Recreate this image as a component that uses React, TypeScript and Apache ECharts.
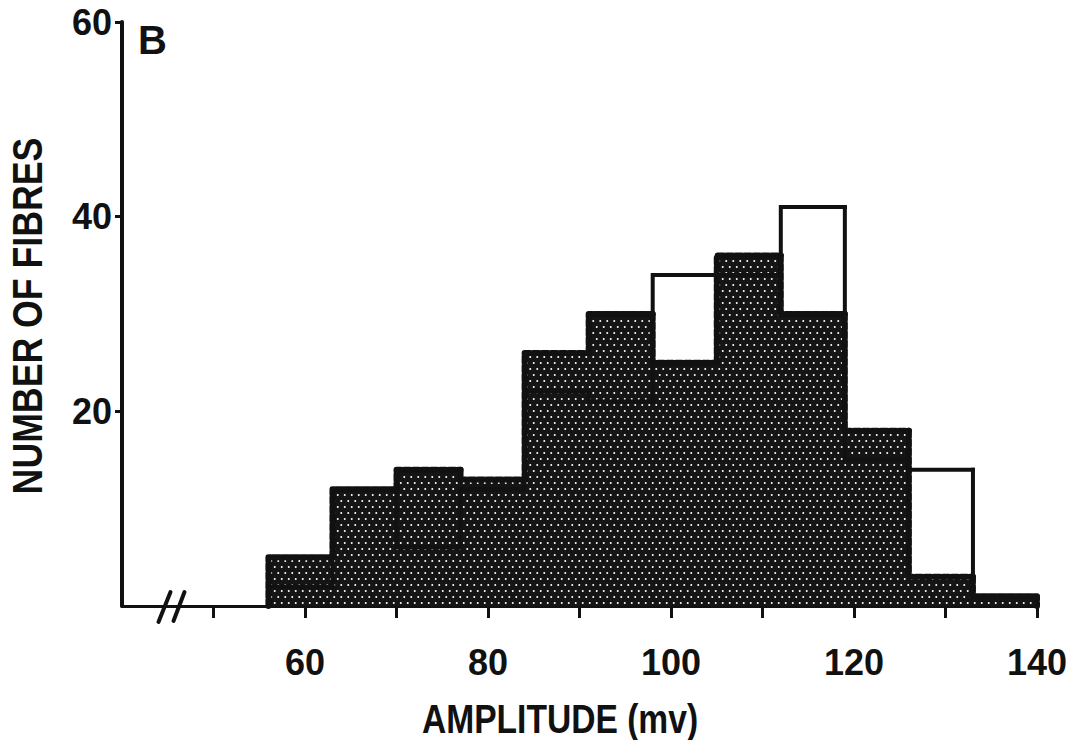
import React, { useEffect, useRef } from 'react';
import * as echarts from 'echarts';

// ---- data ----
const binEdges = [56, 63, 70, 77, 84, 91, 98, 105, 112, 119, 126, 133, 140];
const stippledCounts = [5, 12, 14, 13, 26, 30, 25, 36, 30, 18, 3, 1];
const openCounts = [2, 12, 6, 12, 22, 21, 34, 34, 41, 15, 14, 1];
const xTickValues = [50, 60, 70, 80, 90, 100, 110, 120, 130, 140];
const xLabelValues = [60, 80, 100, 120, 140];
const yTickValues = [20, 40, 60];
const axisBreakAt = [45.3];
const xTitle = 'AMPLITUDE (mv)';
const yTitle = 'NUMBER OF FIBRES';
const panelLabel = 'B';

const INK = '#111111';
const FONT = "'Liberation Sans', Arial, sans-serif";

function makeStipple() {
  const c = document.createElement('canvas');
  c.width = 7;
  c.height = 12;
  const g = c.getContext('2d')!;
  g.fillStyle = '#151515';
  g.fillRect(0, 0, 7, 12);
  g.fillStyle = '#ffffff';
  [[1.75, 3], [5.25, 9]].forEach(([x, y]) => {
    g.beginPath();
    g.arc(x, y, 1.0, 0, Math.PI * 2);
    g.fill();
  });
  return { image: c, repeat: 'repeat', imageWidth: 7, imageHeight: 12 } as any;
}

function barData(counts: number[]) {
  return counts.map((h, i) => [binEdges[i], binEdges[i + 1], h]);
}

function outlineData(counts: number[]) {
  return counts.map((h, i) => [
    binEdges[i],
    binEdges[i + 1],
    h,
    i === 0 ? 0 : counts[i - 1],
    i === counts.length - 1 ? 1 : 0,
  ]);
}

function outlineRenderer(style: any) {
  return (params: any, api: any) => {
    const x0 = api.value(0);
    const x1 = api.value(1);
    const h = api.value(2);
    const prev = api.value(3);
    const last = api.value(4);
    const pts = [api.coord([x0, prev]), api.coord([x0, h]), api.coord([x1, h])];
    if (last) pts.push(api.coord([x1, 0]));
    return {
      type: 'polyline',
      shape: { points: pts },
      style: { fill: 'none', ...style },
    };
  };
}

export default function App() {
  const ref = useRef<HTMLDivElement>(null);

  useEffect(() => {
    if (!ref.current) return;
    const chart = echarts.init(ref.current, null, { renderer: 'svg' });
    const stipple = makeStipple();

    const option: any = {
      animation: false,
      backgroundColor: '#ffffff',
      grid: { left: 122, right: 38, top: 22, bottom: 134, containLabel: false },
      xAxis: {
        type: 'value',
        min: 40,
        max: 140,
        interval: 10,
        splitLine: { show: false },
        axisLine: { show: true, lineStyle: { color: INK, width: 3 } },
        axisTick: {
          show: true,
          customValues: xTickValues,
          length: 12,
          inside: false,
          lineStyle: { color: INK, width: 3 },
        },
        axisLabel: {
          customValues: xLabelValues,
          margin: 38,
          color: INK,
          fontFamily: FONT,
          fontWeight: 'bold',
          fontSize: 36,
        },
      },
      yAxis: {
        type: 'value',
        min: 0,
        max: 60,
        interval: 20,
        splitLine: { show: false },
        axisLine: { show: true, lineStyle: { color: INK, width: 4 } },
        axisTick: {
          show: true,
          customValues: yTickValues,
          length: 7,
          lineStyle: { color: INK, width: 3 },
        },
        axisLabel: {
          customValues: yTickValues,
          margin: 10,
          color: INK,
          fontFamily: FONT,
          fontWeight: 'bold',
          fontSize: 36,
        },
      },
      series: [
        {
          type: 'custom',
          name: 'stippled',
          z: 1,
          encode: { x: [0, 1], y: 2 },
          data: barData(stippledCounts),
          renderItem: (params: any, api: any) => {
            const p0 = api.coord([api.value(0), api.value(2)]);
            const p1 = api.coord([api.value(1), 0]);
            return {
              type: 'rect',
              shape: { x: p0[0] - 0.5, y: p0[1], width: p1[0] - p0[0] + 1, height: p1[1] - p0[1] },
              style: { fill: stipple, stroke: 'none' },
            };
          },
        },
        {
          type: 'custom',
          name: 'stippled outline',
          z: 2,
          encode: { x: [0, 1], y: 2 },
          data: outlineData(stippledCounts),
          renderItem: outlineRenderer({
            stroke: INK,
            lineWidth: 6,
            lineDash: [6, 3],
            lineCap: 'round',
            lineJoin: 'round',
          }),
        },
        {
          type: 'custom',
          name: 'open outline',
          z: 3,
          encode: { x: [0, 1], y: 2 },
          data: outlineData(openCounts),
          renderItem: outlineRenderer({
            stroke: INK,
            lineWidth: 4,
            lineCap: 'square',
            lineJoin: 'miter',
          }),
        },
        {
          type: 'custom',
          name: 'axis break',
          z: 4,
          silent: true,
          encode: { x: 0 },
          data: axisBreakAt.map((v) => [v, 0]),
          renderItem: (params: any, api: any) => {
            const c = api.coord([api.value(0), 0]);
            const st = { stroke: INK, lineWidth: 4, lineCap: 'round' };
            return {
              type: 'group',
              children: [
                { type: 'line', shape: { x1: c[0] - 12, y1: c[1] + 16, x2: c[0], y2: c[1] - 14 }, style: st },
                { type: 'line', shape: { x1: c[0] + 3, y1: c[1] + 15, x2: c[0] + 14, y2: c[1] - 14 }, style: st },
              ],
            };
          },
        },
      ],
      graphic: [
        {
          type: 'text',
          left: 138,
          top: 20,
          style: { text: panelLabel, fill: INK, font: `bold 40px ${FONT}` },
        },
        {
          type: 'text',
          x: 560,
          y: 719,
          scaleX: 0.84,
          style: {
            text: xTitle,
            fill: INK,
            align: 'center',
            verticalAlign: 'middle',
            font: `bold 40px ${FONT}`,
          },
        },
        {
          type: 'text',
          x: 27,
          y: 316,
          rotation: Math.PI / 2,
          scaleX: 0.83,
          style: {
            text: yTitle,
            fill: INK,
            align: 'center',
            verticalAlign: 'middle',
            font: `bold 43px ${FONT}`,
          },
        },
      ],
    };

    chart.setOption(option);
    return () => chart.dispose();
  }, []);

  return (
    <div
      ref={ref}
      style={{ position: 'fixed', left: 0, top: 0, width: 1075, height: 740, background: '#fff' }}
    />
  );
}
